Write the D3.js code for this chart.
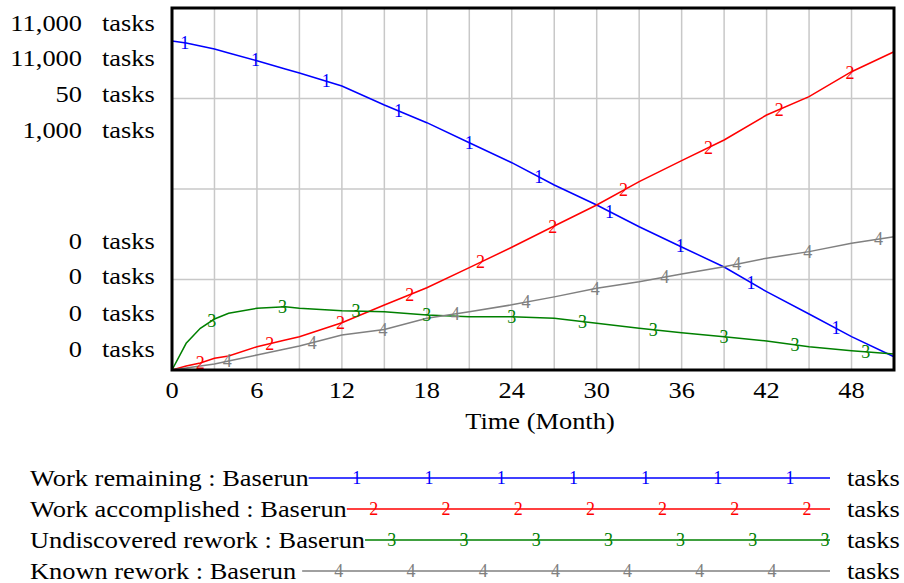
<!DOCTYPE html>
<html>
<head>
<meta charset="utf-8">
<script src="https://cdn.jsdelivr.net/npm/d3@7"></script>
<style>
  body { margin: 0; background: #fff; }
  text { font-family: "Liberation Serif", "Times New Roman", serif; }
</style>
</head>
<body>
<div id="chart"></div>
<script>
// data
let months = [0, 1, 2, 3, 4, 6, 8, 9, 12, 15, 18, 21, 24, 27, 30, 33, 36, 39, 42, 45, 48, 51];
let workRemaining = [10000, 9936, 9845, 9754, 9632, 9399, 9146, 9025, 8630, 8052, 7515, 6907, 6299, 5622, 5014, 4354, 3738, 3130, 2379, 1702, 1012, 404];
let workAccomplished = [0, 122, 213, 355, 425, 708, 912, 1012, 1437, 1975, 2501, 3109, 3729, 4376, 5014, 5722, 6360, 6989, 7749, 8305, 9064, 9672];
let undiscoveredRework = [0, 3.69, 5.76, 7.04, 7.83, 8.52, 8.74, 8.52, 8.19, 8.05, 7.60, 7.36, 7.36, 7.14, 6.45, 5.76, 5.15, 4.60, 4.01, 3.22, 2.67, 2.21];
let knownRework = [0, 5.5, 11, 16.6, 25, 41.4, 58, 66.3, 96.7, 112, 143, 161, 180, 202, 226, 244, 265, 285, 309, 327, 350, 368];

let seriesNames = ["Work remaining : Baserun", "Work accomplished : Baserun", "Undiscovered rework : Baserun", "Known rework : Baserun"];
let seriesValues = [workRemaining, workAccomplished, undiscoveredRework, knownRework];
let seriesColors = ["#0000ff", "#ff0000", "#008000", "#808080"];
let seriesMax = [11000, 11000, 50, 1000];
let topLabels = ["11,000", "11,000", "50", "1,000"];
let bottomLabels = ["0", "0", "0", "0"];
let unitLabel = "tasks";
let xTicks = [0, 6, 12, 18, 24, 30, 36, 42, 48];
let markerMonths = [
  [0.9, 5.9, 10.9, 16, 21, 25.9, 30.9, 35.9, 40.9, 46.9],
  [2, 6.9, 11.9, 16.8, 21.8, 26.9, 31.9, 37.9, 42.9, 47.9],
  [2.8, 7.8, 13, 18, 24, 29, 34, 39, 44, 49],
  [3.9, 9.9, 14.9, 20, 25, 29.9, 34.8, 39.9, 44.9, 49.9]
];

let width = 904, height = 583;
let plot = { left: 172, right: 894, top: 8, bottom: 370 };
let stretch = 1.1; // the original text is a bit wider than Liberation Serif

let svg = d3.select("#chart").append("svg")
  .attr("width", width)
  .attr("height", height);

svg.append("rect").attr("width", width).attr("height", height).attr("fill", "#fff");

// widen a text element horizontally
function widen(sel) {
  sel.each(function() {
    let w = this.getComputedTextLength();
    d3.select(this).attr("textLength", w * stretch).attr("lengthAdjust", "spacingAndGlyphs");
  });
  return sel;
}

let x = d3.scaleLinear().domain([0, 51]).range([plot.left, plot.right]);
let yScales = seriesMax.map(m => d3.scaleLinear().domain([0, m]).range([plot.bottom, plot.top]));
let yGrid = d3.scaleLinear().domain([0, 4]).range([plot.bottom, plot.top]);

// grid
let grid = svg.append("g");
grid.selectAll(".vg")
  .data(d3.range(3, 51, 3))
  .enter().append("line")
  .attr("x1", d => x(d)).attr("x2", d => x(d))
  .attr("y1", plot.top).attr("y2", plot.bottom)
  .attr("stroke", "#c8c8c8").attr("stroke-width", 1.5);
grid.selectAll(".hg")
  .data([1, 2, 3])
  .enter().append("line")
  .attr("x1", plot.left).attr("x2", plot.right)
  .attr("y1", d => yGrid(d)).attr("y2", d => yGrid(d))
  .attr("stroke", "#c8c8c8").attr("stroke-width", 1.5);

// series lines
seriesValues.forEach((vals, i) => {
  let line = d3.line()
    .x((d, j) => x(months[j]))
    .y(d => yScales[i](d));
  svg.append("path")
    .datum(vals)
    .attr("d", line)
    .attr("fill", "none")
    .attr("stroke", seriesColors[i])
    .attr("stroke-width", 1.5);
});

// numbered markers on the lines
seriesValues.forEach((vals, i) => {
  let interp = t => {
    let k = d3.bisectRight(months, t) - 1;
    k = Math.max(0, Math.min(months.length - 2, k));
    let f = (t - months[k]) / (months[k + 1] - months[k]);
    return vals[k] + f * (vals[k + 1] - vals[k]);
  };
  svg.selectAll(".m" + i)
    .data(markerMonths[i])
    .enter().append("text")
    .attr("x", d => x(d))
    .attr("y", d => yScales[i](interp(d)))
    .attr("dy", "0.34em")
    .attr("text-anchor", "middle")
    .attr("font-size", 18)
    .attr("fill", seriesColors[i])
    .text(i + 1);
});

// frame
svg.append("rect")
  .attr("x", plot.left).attr("y", plot.top)
  .attr("width", plot.right - plot.left).attr("height", plot.bottom - plot.top)
  .attr("fill", "none").attr("stroke", "#000").attr("stroke-width", 3);

// y labels
let topRows = [23, 58, 94, 130];
let bottomRows = [241, 276, 313, 349];
let yLab = svg.append("g").attr("font-size", 24);
topLabels.forEach((t, i) => {
  widen(yLab.append("text").attr("x", 82).attr("y", topRows[i]).attr("dy", "0.33em").attr("text-anchor", "end").text(t));
  widen(yLab.append("text").attr("x", 102).attr("y", topRows[i]).attr("dy", "0.33em").text(unitLabel));
});
bottomLabels.forEach((t, i) => {
  widen(yLab.append("text").attr("x", 82).attr("y", bottomRows[i]).attr("dy", "0.33em").attr("text-anchor", "end").text(t));
  widen(yLab.append("text").attr("x", 102).attr("y", bottomRows[i]).attr("dy", "0.33em").text(unitLabel));
});

// x axis labels
widen(svg.append("g").attr("font-size", 24)
  .selectAll("text")
  .data(xTicks)
  .enter().append("text")
  .attr("x", d => x(d))
  .attr("y", 390)
  .attr("dy", "0.33em")
  .attr("text-anchor", "middle")
  .text(d => d));

widen(svg.append("text")
  .attr("x", 540).attr("y", 421).attr("dy", "0.33em")
  .attr("text-anchor", "middle").attr("font-size", 24)
  .text("Time (Month)"));

// legend
let legendRows = [478, 509, 540, 571];
let lastOffset = [40, 23, 5, 58];
let lineEnd = 830;
seriesNames.forEach((name, i) => {
  let g = svg.append("g");
  let t = g.append("text")
    .attr("x", 30).attr("y", legendRows[i]).attr("dy", "0.33em")
    .attr("font-size", 24)
    .text(name);
  let tw = t.node().getComputedTextLength() * stretch;
  widen(t);
  let start = 30 + tw + (i === 3 ? 6 : 0);
  g.append("line")
    .attr("x1", start).attr("x2", lineEnd)
    .attr("y1", legendRows[i]).attr("y2", legendRows[i])
    .attr("stroke", seriesColors[i]).attr("stroke-width", 1.5);
  d3.range(7).forEach(k => {
    g.append("text")
      .attr("x", lineEnd - lastOffset[i] - (6 - k) * 72.2)
      .attr("y", legendRows[i]).attr("dy", "0.34em")
      .attr("text-anchor", "middle").attr("font-size", 18)
      .attr("fill", seriesColors[i])
      .text(i + 1);
  });
  widen(g.append("text")
    .attr("x", 847).attr("y", legendRows[i]).attr("dy", "0.33em")
    .attr("font-size", 24)
    .text(unitLabel));
});
</script>
</body>
</html>
